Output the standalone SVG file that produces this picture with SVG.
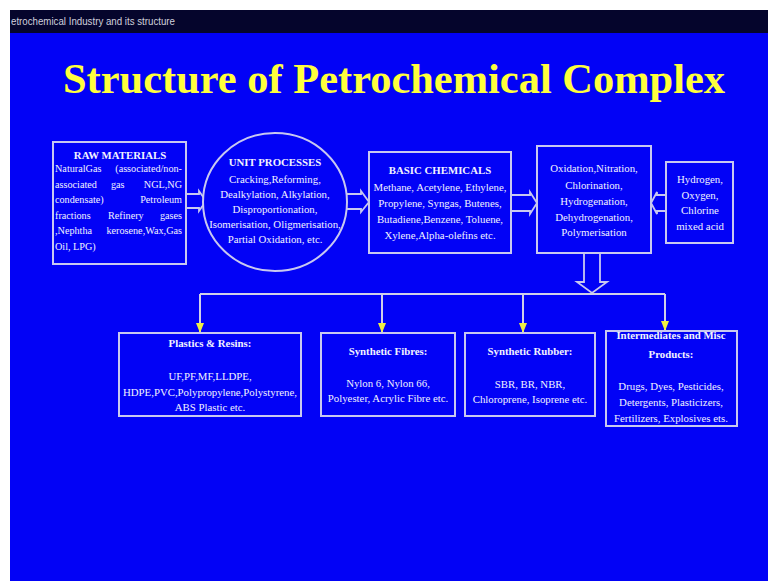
<svg xmlns="http://www.w3.org/2000/svg" width="768" height="581" viewBox="0 0 768 581">
<defs>
<style>
.bg{fill:#0202f6}
.box{fill:#0202f6;stroke:#c8c8f0;stroke-width:2}
.t{font-family:"Liberation Serif","Times New Roman",serif;font-size:10.8px;fill:#f2f2ff}
.s{font-size:10.2px}
.c{text-anchor:middle}
.e{text-anchor:end}
.b{font-weight:bold}
.arr{fill:#0202f6;stroke:#c8c8f0;stroke-width:1.8;stroke-linejoin:miter}
.ln{fill:none;stroke:#d0d0e8;stroke-width:2}
</style>
<marker id="yh" viewBox="0 0 10 8" refX="10" refY="4" markerWidth="10" markerHeight="8" markerUnits="userSpaceOnUse" orient="auto">
<path d="M0,0 L10,4 L0,8 Z" fill="#f0f040"/>
</marker>
</defs>
<rect x="0" y="0" width="768" height="581" fill="#ffffff"/>
<rect x="10" y="10" width="758" height="571" class="bg"/>
<rect x="10" y="10" width="758" height="23" fill="#05052c"/>
<text x="11" y="25" font-family="Liberation Sans, Arial, sans-serif" font-size="10" fill="#d0d0dc" textLength="164" lengthAdjust="spacingAndGlyphs">etrochemical Industry and its structure</text>
<text x="63" y="93" font-family="Liberation Serif, Times New Roman, serif" font-size="42" font-weight="bold" fill="#ffff3c" textLength="662" lengthAdjust="spacingAndGlyphs">Structure of Petrochemical Complex</text>

<g id="connectors">
<path class="arr" d="M186,194 L199,194 L199,191 L206,201 L199,211 L199,208 L186,208"/>
<path class="arr" d="M347,194 L361,194 L361,191 L369,202 L361,212 L361,209 L347,209"/>
<path class="arr" d="M511,195 L530,195 L530,192 L537,203 L530,214 L530,211 L511,211"/>
<path class="arr" d="M666,195 L657,195 L657,192 L651,203 L657,214 L657,211 L666,211"/>
<path class="arr" d="M584,253 L584,282 L577,282 L592,293 L607,282 L600,282 L600,253"/>
<path class="ln" d="M200,294 L665,294"/>
<path class="ln" d="M200,294 L200,333" marker-end="url(#yh)"/>
<path class="ln" d="M382,294 L382,333" marker-end="url(#yh)"/>
<path class="ln" d="M523,294 L523,333" marker-end="url(#yh)"/>
<path class="ln" d="M665,294 L665,331" marker-end="url(#yh)"/>
</g>

<g id="raw-materials">
<rect class="box" x="53" y="142" width="133" height="122"/>
<text class="t b c" x="120" y="159">RAW MATERIALS</text>
<text class="t s" x="55" y="172">NaturalGas</text><text class="t s e" x="182" y="172">(associated/non-</text>
<text class="t s" x="55" y="187.6">associated</text><text class="t s" x="111" y="187.6">gas</text><text class="t s e" x="182" y="187.6">NGL,NG</text>
<text class="t s" x="55" y="203.2">condensate)</text><text class="t s e" x="182" y="203.2">Petroleum</text>
<text class="t s" x="55" y="218.8">fractions</text><text class="t s" x="108" y="218.8">Refinery</text><text class="t s e" x="182" y="218.8">gases</text>
<text class="t s" x="55" y="234.4">,Nephtha</text><text class="t s e" x="182" y="234.4">kerosene,Wax,Gas</text>
<text class="t s" x="55" y="250">Oil, LPG)</text>
</g>

<g id="unit-processes">
<ellipse class="box" cx="275" cy="202" rx="72" ry="69"/>
<text class="t b c" x="275" y="166">UNIT PROCESSES</text>
<text class="t c" x="275" y="183">Cracking,Reforming,</text>
<text class="t c" x="275" y="198">Dealkylation, Alkylation,</text>
<text class="t c" x="275" y="213">Disproportionation,</text>
<text class="t c" x="275" y="228">Isomerisation, Oligmerisation,</text>
<text class="t c" x="275" y="243">Partial Oxidation, etc.</text>
</g>

<g id="basic-chemicals">
<rect class="box" x="369" y="152" width="142" height="101"/>
<text class="t b c" x="440" y="174">BASIC CHEMICALS</text>
<text class="t c" x="440" y="191">Methane, Acetylene, Ethylene,</text>
<text class="t c" x="440" y="207">Propylene, Syngas, Butenes,</text>
<text class="t c" x="440" y="223">Butadiene,Benzene, Toluene,</text>
<text class="t c" x="440" y="239">Xylene,Alpha-olefins etc.</text>
</g>

<g id="conversion-processes">
<rect class="box" x="537" y="146" width="114" height="107"/>
<text class="t c" x="594" y="172">Oxidation,Nitration,</text>
<text class="t c" x="594" y="189">Chlorination,</text>
<text class="t c" x="594" y="205">Hydrogenation,</text>
<text class="t c" x="594" y="221">Dehydrogenation,</text>
<text class="t c" x="594" y="236">Polymerisation</text>
</g>

<g id="reagents">
<rect class="box" x="666" y="162" width="67" height="81"/>
<text class="t c" x="700" y="183">Hydrogen,</text>
<text class="t c" x="700" y="199">Oxygen,</text>
<text class="t c" x="700" y="214">Chlorine</text>
<text class="t c" x="700" y="230">mixed acid</text>
</g>

<g id="plastics-resins">
<rect class="box" x="119" y="333" width="182" height="83"/>
<text class="t b c" x="210" y="347">Plastics &amp; Resins:</text>
<text class="t c" x="210" y="380">UF,PF,MF,LLDPE,</text>
<text class="t c" x="210" y="396">HDPE,PVC,Polypropylene,Polystyrene,</text>
<text class="t c" x="210" y="411">ABS Plastic etc.</text>
</g>

<g id="synthetic-fibres">
<rect class="box" x="321" y="333" width="134" height="83"/>
<text class="t b c" x="388" y="355">Synthetic Fibres:</text>
<text class="t c" x="388" y="387">Nylon 6, Nylon 66,</text>
<text class="t c" x="388" y="402">Polyester, Acrylic Fibre etc.</text>
</g>

<g id="synthetic-rubber">
<rect class="box" x="465" y="333" width="130" height="83"/>
<text class="t b c" x="530" y="355">Synthetic Rubber:</text>
<text class="t c" x="530" y="388">SBR, BR, NBR,</text>
<text class="t c" x="530" y="403">Chloroprene, Isoprene etc.</text>
</g>

<g id="intermediates">
<rect class="box" x="606" y="331" width="131" height="95"/>
<text class="t b c" x="671" y="339">Intermediates and Misc</text>
<text class="t b c" x="671" y="358">Products:</text>
<text class="t c" x="671" y="390">Drugs, Dyes, Pesticides,</text>
<text class="t c" x="671" y="406">Detergents, Plasticizers,</text>
<text class="t c" x="671" y="422">Fertilizers, Explosives ets.</text>
</g>
</svg>
